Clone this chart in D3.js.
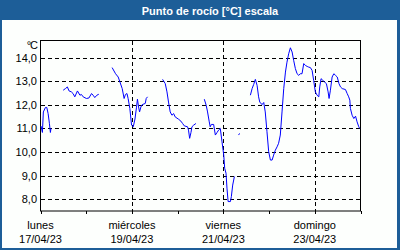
<!DOCTYPE html>
<html>
<head>
<meta charset="utf-8">
<script src="https://cdn.jsdelivr.net/npm/d3@7"></script>
<style>
  body { margin: 0; }
  svg { display: block; font-family: "Liberation Sans", Arial, sans-serif; }
</style>
</head>
<body>
<script>
// hours since 17/04/23 00:00, null = gap in the record
var hours = [
  0.3, 1.0, 1.5, 2.6, 3.3, 4.0, 4.7, 5.2, 5.5, null,
  11.9, 13.1, 14.1, 15.0, 16.2, 17.1, 18.0, 19.4, 20.7, 21.5, 22.4, 24.1, 25.4, 26.8, 27.6, 28.5, 29.6, 30.6, null,
  37.6, 39.4, 40.8, 41.7, 42.9, 43.9, 44.6, 45.4, 46.0, 46.9, 47.8, 48.7, 49.6, 50.4, 50.9, 51.5, 52.0, 52.7, 53.4, 55.0, 55.5, 56.2, null,
  64.1, 65.5, 66.4, 67.2, 68.1, 69.0, 69.9, 70.7, 72.5, 73.7, 74.6, 75.5, 77.2, 77.7, 78.3, 79.0, 79.5, 80.4, 81.6, null,
  86.0, 87.0, 87.7, 88.6, 89.1, 89.7, 90.9, 91.8, 92.7, 93.5, 94.4, 95.3, 96.2, 96.7, 97.4, 97.9, 98.5, 99.7, 100.2, 100.9, 101.8, null,
  104.0, 104.5, null,
  110.2, 111.1, 111.9, 112.8, 113.7, 114.5, 115.1, 116.3, 117.2, 118.0, 118.9, 119.8, 120.7, 121.6, 122.4, 123.3, 124.2, 125.0, 125.9,
  126.8, 127.7, 128.6, 129.4, 130.3, 131.2, 132.1, 132.9, 133.8, 134.7, 135.6, 136.4, 137.3, 138.2, 139.1, 140.0, 140.8, 141.7, 142.6,
  143.4, 144.3, 145.2, 146.1, 146.6, 147.3, 148.2, 149.1, 150.1, 151.0, 151.5, 152.2, 153.1, 154.0, 154.9, 155.8, 156.7, 157.5, 158.4,
  160.1, 161.0, 161.8, 162.4, 162.7, 163.6, 164.5, 165.4, 166.2, 167.1, 167.6
];
var dewPoint = [
  11.1, 10.83, 11.7, 11.89, 11.89, 11.63, 11.2, 10.83, 11.0, null,
  12.62, 12.69, 12.76, 12.59, 12.55, 12.48, 12.34, 12.59, 12.41, 12.44, 12.34, 12.27, 12.29, 12.48, 12.41, 12.31, 12.41, 12.45, null,
  13.58, 13.32, 13.18, 12.97, 12.69, 12.27, 12.44, 12.48, 12.27, 11.85, 11.14, 11.07, 11.4, 11.9, 12.24, 11.91, 11.7, 11.91, 12.01, 12.06, 12.27, 12.34, null,
  13.08, 12.9, 12.55, 12.12, 11.7, 11.56, 11.63, 11.49, 11.39, 11.31, 11.21, 11.11, 11.07, 10.93, 10.58, 10.83, 11.07, 11.14, 11.21, null,
  12.24, 11.98, 11.7, 11.28, 11.07, 11.17, 11.17, 10.72, 10.83, 10.93, 11.0, 10.43, 9.87, 9.31, 9.1, 8.47, 7.9, 7.9, 8.11, 8.6, 8.96, null,
  10.72, 10.79, null,
  12.41, 12.69, 12.86, 13.08, 12.83, 12.34, 12.12, 12.01, 12.1, 11.7, 10.86, 10.01, 9.66, 9.66, 9.87, 10.08, 10.22, 10.37, 10.72,
  11.7, 12.69, 13.39, 13.81, 14.17, 14.42, 14.24, 13.89, 13.54, 13.32, 13.25, 13.32, 13.32, 13.75, 13.67, 13.63, 13.6, 13.58, 13.46,
  13.04, 12.55, 12.41, 12.34, 12.76, 13.11, 13.04, 12.97, 12.9, 12.55, 12.27, 12.62, 13.18, 13.32, 13.25, 13.18, 12.9, 12.76, 12.69,
  12.65, 12.48, 12.34, 12.2, 11.85, 11.56, 11.42, 11.52, 11.28, 11.07, 11.0
];
var yTicks = [8, 9, 10, 11, 12, 13, 14];
var dayNames = ["lunes", "miércoles", "viernes", "domingo"];
var dayDates = ["17/04/23", "19/04/23", "21/04/23", "23/04/23"];

var w = 400, h = 250;
var blue = "#1d5e98";
var start = new Date(2023, 3, 17), end = new Date(2023, 3, 24);

var points = hours.map(function(d, i) {
  return d === null ? null : { t: new Date(start.getTime() + d * 3600e3), v: dewPoint[i] };
});

var svg = d3.select("body").append("svg")
    .attr("width", w)
    .attr("height", h);

// frame and title bar
svg.append("rect").attr("width", w).attr("height", h).style("fill", blue);
svg.append("rect").attr("x", 2).attr("y", 20).attr("width", w - 5).attr("height", h - 22)
    .style("fill", "#fdfffd");
svg.append("text").attr("x", 210).attr("y", 14.5)
    .attr("text-anchor", "middle")
    .style("font-size", "11px").style("font-weight", "bold").style("fill", "#fff")
    .text("Punto de rocío [°C] escala");

var x = d3.scaleTime().domain([start, end]).range([40.5, 360.5]);
var y = d3.scaleLinear().domain([7.5, 14.75]).range([211, 40]);

// horizontal grid
svg.selectAll(".hgrid").data(yTicks).enter().append("line")
    .attr("class", "hgrid")
    .attr("x1", 41).attr("x2", 360)
    .attr("y1", function(d) { return Math.round(y(d)) + 0.5; })
    .attr("y2", function(d) { return Math.round(y(d)) + 0.5; })
    .style("stroke", "#000").style("stroke-dasharray", "4,3");

// vertical grid every two days
var gridDays = d3.timeDay.range(start, end, 2).slice(1);
svg.selectAll(".vgrid").data(gridDays).enter().append("line")
    .attr("class", "vgrid")
    .attr("x1", function(d) { return Math.round(x(d)) + 0.5; })
    .attr("x2", function(d) { return Math.round(x(d)) + 0.5; })
    .attr("y1", 41).attr("y2", 211)
    .style("stroke", "#000").style("stroke-dasharray", "4,3");

// plot box
svg.append("rect").attr("x", 40.5).attr("y", 40.5).attr("width", 320).attr("height", 170.5)
    .style("fill", "none").style("stroke", "#000");

// day ticks
svg.selectAll(".tick").data(d3.timeDay.range(start, d3.timeDay.offset(end, 1))).enter().append("line")
    .attr("x1", function(d) { return Math.round(x(d)) + 0.5; })
    .attr("x2", function(d) { return Math.round(x(d)) + 0.5; })
    .attr("y1", 211).attr("y2", 214)
    .style("stroke", "#000");

// y labels
svg.selectAll(".ylab").data(yTicks).enter().append("text")
    .attr("x", 37).attr("y", function(d) { return y(d) + 4; })
    .attr("text-anchor", "end")
    .style("font-size", "11px").style("fill", "#000")
    .text(function(d) { return d3.format(".1f")(d).replace(".", ","); });
svg.append("text").attr("x", 37).attr("y", 49).attr("text-anchor", "end")
    .style("font-size", "11px").style("letter-spacing", "-1px").text("°C");

// x labels
var labelDays = d3.timeDay.range(start, end, 2);
labelDays.forEach(function(d, i) {
  var t = svg.append("text").attr("x", x(d)).attr("text-anchor", "middle")
      .style("font-size", "11px").style("fill", "#000");
  t.append("tspan").attr("x", x(d)).attr("y", 229).text(dayNames[i]);
  t.append("tspan").attr("x", x(d)).attr("y", 243).text(dayDates[i]);
});

// dew point line
var line = d3.line()
    .defined(function(d) { return d !== null; })
    .x(function(d) { return x(d.t); })
    .y(function(d) { return y(d.v); });

svg.append("path").datum(points)
    .attr("d", line)
    .style("fill", "none").style("stroke", "#0000ff").style("stroke-width", 1);
</script>
</body>
</html>
